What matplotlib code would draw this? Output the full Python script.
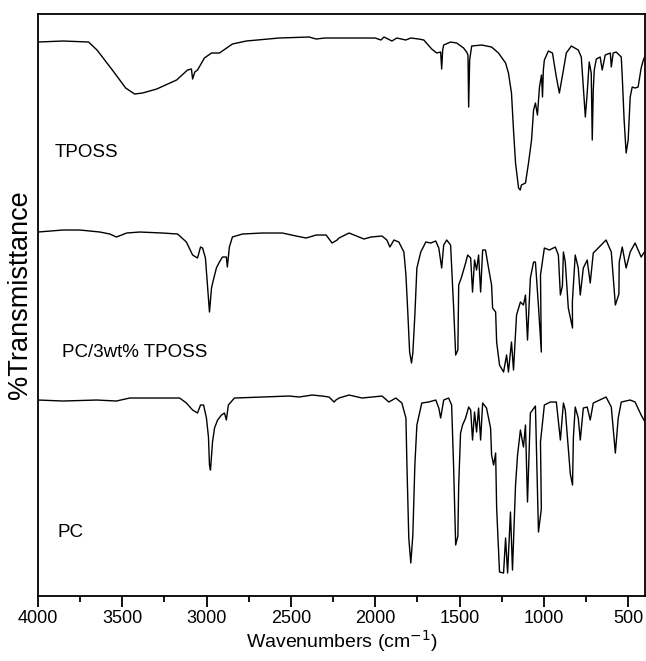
import numpy as np
import matplotlib
matplotlib.use("Agg")
import matplotlib.pyplot as plt
from matplotlib.ticker import MultipleLocator

# values, arbitrary transmittance units (traces are stacked)
tposs_wn = [4000, 3850, 3700, 3650, 3550, 3480, 3427, 3380, 3296, 3178, 3113, 3090, 3083, 3070,
            3054, 3013, 2971, 2924, 2847, 2765, 2570, 2392, 2350, 2300, 2000, 1966, 1948, 1901,
            1872, 1819, 1789, 1742, 1712, 1665, 1635, 1612, 1606, 1600, 1594, 1553, 1517, 1476,
            1458, 1450, 1446, 1440, 1428, 1369, 1310, 1269, 1227, 1210, 1192, 1180, 1168, 1150,
            1140, 1133, 1109, 1091, 1073, 1061, 1050, 1038, 1026, 1014, 1008, 1003, 997, 973,
            949, 926, 908, 884, 867, 837, 796, 778, 766, 754, 743, 731, 719, 713, 707, 701, 689,
            666, 654, 636, 606, 600, 589, 571, 541, 535, 524, 512, 500, 488, 476, 459, 441, 423,
            410, 400]
tposs_t = [554, 555, 554, 546, 524, 508, 502, 503, 507, 516, 526, 527, 517, 524,
           526, 538, 543, 543, 552, 555, 558, 559, 557, 558, 558, 556, 559, 555,
           558, 556, 558, 557, 556, 547, 543, 544, 527, 546, 551, 554, 553, 548,
           544, 541, 489, 536, 550, 551, 549, 543, 533, 523, 503, 466, 433, 408,
           406, 411, 413, 433, 456, 486, 493, 481, 509, 521, 499, 526, 536, 545,
           543, 519, 503, 526, 543, 550, 546, 539, 509, 479, 503, 534, 523, 456, 506, 526, 537,
           539, 526, 541, 543, 529, 543, 544, 539, 519, 476, 443, 456, 499, 509, 508, 509, 528,
           536, 540]

blend_wn = [4000, 3852, 3752, 3633, 3574, 3535, 3474, 3397, 3261, 3172, 3120, 3083, 3054, 3036,
            3024, 3007, 2995, 2983, 2971, 2960, 2942, 2924, 2906, 2883, 2877, 2865, 2847, 2788,
            2670, 2551, 2469, 2410, 2350, 2291, 2256, 2226, 2215, 2155, 2096, 2067, 2025, 1960,
            1931, 1913, 1889, 1860, 1830, 1818, 1807, 1796, 1785, 1777, 1765, 1753, 1730, 1700,
            1671, 1641, 1623, 1606, 1594, 1576, 1553, 1535, 1523, 1510, 1505, 1488, 1464, 1452,
            1434, 1423, 1411, 1399, 1387, 1375, 1363, 1346, 1328, 1310, 1304, 1286, 1280, 1263,
            1239, 1221, 1210, 1192, 1180, 1162, 1139, 1121, 1109, 1097, 1080, 1061, 1050, 1032,
            1015, 1020, 997, 967, 932, 914, 902, 890, 884, 873, 855, 830, 831, 814, 796, 784, 766,
            743, 725, 707, 678, 631, 600, 576, 555, 553, 535, 512, 488, 459, 423, 400]
blend_t = [364, 366, 366, 364, 362, 359, 363, 364, 363, 362, 354, 341, 338, 349,
           348, 338, 311, 284, 308, 316, 328, 334, 339, 339, 329, 349, 359, 362,
           363, 363, 360, 358, 361, 361, 353, 356, 358, 363, 359, 357, 359, 360,
           356, 349, 356, 354, 344, 321, 284, 244, 233, 243, 281, 328, 344, 354,
           353, 355, 348, 328, 351, 356, 351, 288, 241, 246, 311, 319, 333, 341,
           338, 304, 336, 326, 341, 304, 346, 346, 328, 311, 288, 284, 254, 231,
           224, 241, 224, 254, 226, 281, 294, 291, 301, 256, 318, 334, 334, 290,
           244, 321, 348, 346, 349, 341, 301, 310, 344, 334, 288, 268, 294, 341, 328, 301, 328,
           336, 313, 343, 348, 356, 344, 291, 302, 334, 349, 328, 344, 353, 339, 345]

pc_wn = [4000, 3852, 3651, 3535, 3456, 3160, 3120, 3083, 3054, 3036, 3018, 3001, 2989, 2983,
         2977, 2965, 2953, 2935, 2912, 2894, 2883, 2871, 2835, 2670, 2510, 2451, 2374, 2315,
         2274, 2244, 2233, 2215, 2155, 2078, 1960, 1919, 1878, 1842, 1818, 1812, 1801, 1789,
         1777, 1765, 1753, 1724, 1683, 1641, 1623, 1612, 1594, 1565, 1547, 1535, 1523, 1510,
         1505, 1494, 1482, 1464, 1446, 1434, 1423, 1411, 1399, 1387, 1375, 1363, 1340, 1316,
         1310, 1298, 1286, 1280, 1263, 1239, 1227, 1215, 1198, 1186, 1168, 1156, 1139, 1121,
         1109, 1097, 1080, 1050, 1032, 1015, 1020, 997, 962, 926, 902, 884, 873, 843, 830, 825,
         814, 796, 784, 766, 743, 725, 707, 631, 600, 576, 559, 541, 488, 459, 423, 400]
pc_t = [196, 195, 196, 195, 198, 198, 193, 186, 183, 191, 191, 178, 159, 131,
        126, 154, 168, 176, 181, 183, 176, 191, 198, 199, 200, 199, 201, 200,
        199, 194, 196, 198, 201, 198, 200, 194, 198, 193, 178, 131, 58, 33,
        61, 131, 171, 193, 194, 196, 188, 178, 196, 198, 191, 128, 51, 60,
        111, 163, 171, 178, 189, 186, 156, 184, 164, 188, 156, 193, 188, 168,
        141, 131, 143, 88, 24, 23, 58, 23, 84, 26, 111, 141, 166, 149,
        171, 94, 183, 190, 64, 87, 154, 191, 194, 194, 156, 193, 186, 122, 111, 158,
        189, 178, 156, 188, 189, 176, 193, 199, 189, 143, 178, 194, 196, 194, 181, 174]

labels = ["TPOSS", "PC/3wt% TPOSS", "PC"]
label_wn = [3900, 3860, 3882]
label_t = [444, 244, 64]

plt.rcParams['font.family'] = ['Liberation Sans', 'DejaVu Sans']

fig = plt.figure(figsize=(6.46, 6.61), dpi=100)
ax = fig.add_axes([0.0588, 0.0983, 0.9397, 0.8805])

for wn, t in [(tposs_wn, tposs_t), (blend_wn, blend_t), (pc_wn, pc_t)]:
    ax.plot(wn, t, color='black', lw=1.0)

for s, x, y in zip(labels, label_wn, label_t):
    ax.text(x, y, s, fontsize=13.5, va='center', ha='left')

ax.set_xlim(4000, 400)
ax.set_ylim(0, 582)
ax.xaxis.set_major_locator(MultipleLocator(500))
ax.xaxis.set_minor_locator(MultipleLocator(250))
ax.tick_params(axis='x', which='major', direction='out', length=8, width=1.3, labelsize=13, pad=2)
ax.tick_params(axis='x', which='minor', direction='out', length=4, width=1.3)
ax.set_yticks([])
for sp in ax.spines.values():
    sp.set_linewidth(1.3)

ax.set_xlabel('Wavenumbers (cm$^{-1}$)', fontsize=14, labelpad=1)
ax.set_ylabel('%Transmisttance', fontsize=19.5)
ax.yaxis.set_label_coords(-0.008, 0.517)

fig.savefig('out.png', dpi=100)
